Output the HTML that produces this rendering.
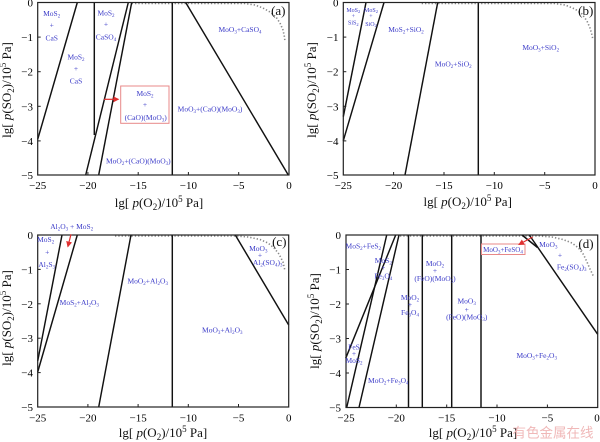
<!DOCTYPE html>
<html><head><meta charset="utf-8"><style>
html,body{margin:0;padding:0;background:#fff;}
svg{display:block;}
text{font-family:"Liberation Serif","Noto Serif CJK SC",serif;}
.lb{fill:#3b3bc8;font-size:7.5px;text-anchor:middle;}
.sm{fill:#3b3bc8;font-size:6px;text-anchor:middle;}
.tk{font-size:11px;fill:#000;}
.ttl{font-size:13px;fill:#111;text-anchor:middle;}
.ln{stroke:#111;stroke-width:1.45;fill:none;}
.fr{stroke:#222;stroke-width:1.2;fill:none;}
.dt{stroke:#888;stroke-width:1.6;fill:none;stroke-dasharray:1.3 2;}
.pn{font-size:13px;fill:#111;text-anchor:middle;}
</style></head><body>
<svg width="600" height="442" viewBox="0 0 600 442" xmlns="http://www.w3.org/2000/svg">
<defs>
<marker id="ah" markerWidth="6" markerHeight="6" refX="5" refY="3" orient="auto" markerUnits="userSpaceOnUse"><path d="M0,0 L6,3 L0,6 Z" fill="#e03030"/></marker>
</defs>
<rect width="600" height="442" fill="#fff"/>

<!-- ============ PANEL A ============ -->
<polyline class="dt" points="131.7,3.5 245,3.5 255,5 263,8 270,12 276,17 280,23 283,30 284.5,37 285,42"/>
<line class="ln" x1="37.7" y1="139.3" x2="77.3" y2="2.5"/>
<line class="ln" x1="94.3" y1="2.5" x2="94.3" y2="135"/>
<line class="ln" x1="85.7" y1="175" x2="128.3" y2="2.5"/>
<line class="ln" x1="98.7" y1="175" x2="131.7" y2="2.5"/>
<line class="ln" x1="172.3" y1="2.5" x2="172.3" y2="175"/>
<line class="ln" x1="185.7" y1="2.5" x2="288" y2="174.5"/>
<rect class="fr" x="37.7" y="2.5" width="251.3" height="172.5"/>
<g stroke="#222" stroke-width="1">
<line x1="87.9" y1="175" x2="87.9" y2="172"/><line x1="138.2" y1="175" x2="138.2" y2="172"/><line x1="188.4" y1="175" x2="188.4" y2="172"/><line x1="238.7" y1="175" x2="238.7" y2="172"/>
<line x1="37.7" y1="37.1" x2="40.7" y2="37.1"/><line x1="37.7" y1="71.7" x2="40.7" y2="71.7"/><line x1="37.7" y1="106.3" x2="40.7" y2="106.3"/><line x1="37.7" y1="140.9" x2="40.7" y2="140.9"/>
</g>
<g class="tk" text-anchor="middle">
<text x="37.7" y="189">−25</text><text x="87.9" y="189">−20</text><text x="138.2" y="189">−15</text><text x="188.4" y="189">−10</text><text x="238.7" y="189">−5</text><text x="289" y="189">0</text>
</g>
<g class="tk" text-anchor="end">
<text x="33" y="6.5">0</text><text x="33" y="41.1">−1</text><text x="33" y="75.7">−2</text><text x="33" y="110.3">−3</text><text x="33" y="144.9">−4</text><text x="33" y="179">−5</text>
</g>
<text class="ttl" x="159" y="207">lg[ <tspan font-style="italic">p</tspan>(O<tspan font-size="9" dy="3">2</tspan><tspan dy="-3">)/10</tspan><tspan font-size="9" dy="-5">5</tspan><tspan dy="5"> Pa]</tspan></text>
<text class="ttl" transform="translate(11,90) rotate(-90)">lg[ <tspan font-style="italic">p</tspan>(SO<tspan font-size="9" dy="3">2</tspan><tspan dy="-3">)/10</tspan><tspan font-size="9" dy="-5">5</tspan><tspan dy="5"> Pa]</tspan></text>
<text class="pn" x="278.3" y="15">(a)</text>
<text class="lb" x="51.7" y="16">MoS<tspan font-size="5" dy="1.5">2</tspan></text>
<text class="lb" x="51.7" y="27.5">+</text>
<text class="lb" x="51.7" y="40.3">CaS</text>
<text class="lb" x="76" y="59.3">MoS<tspan font-size="5" dy="1.5">2</tspan></text>
<text class="lb" x="76" y="71">+</text>
<text class="lb" x="76" y="83.5">CaS</text>
<text class="lb" x="106" y="15.3">MoS<tspan font-size="5" dy="1.5">2</tspan></text>
<text class="lb" x="106" y="26.5">+</text>
<text class="lb" x="106" y="39.3">CaSO<tspan font-size="5" dy="1.5">4</tspan></text>
<text class="lb" x="240" y="32">MoO<tspan font-size="5" dy="1.5">3</tspan><tspan dy="-1.5">+CaSO</tspan><tspan font-size="5" dy="1.5">4</tspan></text>
<rect x="120.7" y="86" width="48.3" height="37.3" fill="#fff" stroke="#e88888" stroke-width="1"/>
<text class="lb" x="145" y="96">MoS<tspan font-size="5" dy="1.5">2</tspan></text>
<text class="lb" x="145" y="107">+</text>
<text class="lb" x="145.7" y="120">(CaO)(MoO<tspan font-size="5" dy="1.5">3</tspan><tspan dy="-1.5">)</tspan></text>
<line x1="104" y1="99.3" x2="118.3" y2="99.3" stroke="#e03030" stroke-width="1.2" marker-end="url(#ah)"/>
<text class="lb" x="210" y="111.5">MoO<tspan font-size="5" dy="1.5">3</tspan><tspan dy="-1.5">+(CaO)(MoO</tspan><tspan font-size="5" dy="1.5">3</tspan><tspan dy="-1.5">)</tspan></text>
<text class="lb" x="138.3" y="163.5">MoO<tspan font-size="5" dy="1.5">2</tspan><tspan dy="-1.5">+(CaO)(MoO</tspan><tspan font-size="5" dy="1.5">3</tspan><tspan dy="-1.5">)</tspan></text>

<!-- ============ PANEL B ============ -->
<polyline class="dt" points="421.7,3.5 555,3.5 565,5 575,9 582,14 587,21 590,28 592,35 593,40"/>
<line class="ln" x1="343.3" y1="116.7" x2="366" y2="2.5"/>
<line class="ln" x1="343.3" y1="140.7" x2="384" y2="2.5"/>
<line class="ln" x1="405" y1="175" x2="437.7" y2="2.5"/>
<line class="ln" x1="478.3" y1="2.5" x2="478.3" y2="175"/>
<rect class="fr" x="343.3" y="2.5" width="251.7" height="172.5"/>
<g stroke="#222" stroke-width="1">
<line x1="393.6" y1="175" x2="393.6" y2="172"/><line x1="444" y1="175" x2="444" y2="172"/><line x1="494.3" y1="175" x2="494.3" y2="172"/><line x1="544.7" y1="175" x2="544.7" y2="172"/>
<line x1="343.3" y1="37.1" x2="346.3" y2="37.1"/><line x1="343.3" y1="71.7" x2="346.3" y2="71.7"/><line x1="343.3" y1="106.3" x2="346.3" y2="106.3"/><line x1="343.3" y1="140.9" x2="346.3" y2="140.9"/>
</g>
<g class="tk" text-anchor="middle">
<text x="343.3" y="189">−25</text><text x="393.6" y="189">−20</text><text x="444" y="189">−15</text><text x="494.3" y="189">−10</text><text x="544.7" y="189">−5</text><text x="595" y="189">0</text>
</g>
<g class="tk" text-anchor="end">
<text x="338.5" y="6.5">0</text><text x="338.5" y="41.1">−1</text><text x="338.5" y="75.7">−2</text><text x="338.5" y="110.3">−3</text><text x="338.5" y="144.9">−4</text><text x="338.5" y="179">−5</text>
</g>
<text class="ttl" x="467.7" y="206">lg[ <tspan font-style="italic">p</tspan>(O<tspan font-size="9" dy="3">2</tspan><tspan dy="-3">)/10</tspan><tspan font-size="9" dy="-5">5</tspan><tspan dy="5"> Pa]</tspan></text>
<text class="ttl" transform="translate(316,90) rotate(-90)">lg[ <tspan font-style="italic">p</tspan>(SO<tspan font-size="9" dy="3">2</tspan><tspan dy="-3">)/10</tspan><tspan font-size="9" dy="-5">5</tspan><tspan dy="5"> Pa]</tspan></text>
<text class="pn" x="585.7" y="15">(b)</text>
<text class="sm" x="353.3" y="12">MoS<tspan font-size="4.5" dy="1.2">2</tspan></text>
<text class="sm" x="353.3" y="18.2">+</text>
<text class="sm" x="353.3" y="24.7">SiS<tspan font-size="4.5" dy="1.2">2</tspan></text>
<text class="sm" x="371" y="12">MoS<tspan font-size="4.5" dy="1.2">2</tspan></text>
<text class="sm" x="371" y="18.2">+</text>
<text class="sm" x="371" y="26">SiO<tspan font-size="4.5" dy="1.2">2</tspan></text>
<text class="lb" x="406" y="32">MoS<tspan font-size="5" dy="1.5">2</tspan><tspan dy="-1.5">+SiO</tspan><tspan font-size="5" dy="1.5">2</tspan></text>
<text class="lb" x="453.3" y="66.5">MoO<tspan font-size="5" dy="1.5">2</tspan><tspan dy="-1.5">+SiO</tspan><tspan font-size="5" dy="1.5">2</tspan></text>
<text class="lb" x="540.7" y="50.2">MoO<tspan font-size="5" dy="1.5">3</tspan><tspan dy="-1.5">+SiO</tspan><tspan font-size="5" dy="1.5">2</tspan></text>

<!-- ============ PANEL C ============ -->
<polyline class="dt" points="115,236 236,236 248,237 260,239.5 268,243 274,248 279,254 283,262 285,271"/>
<line class="ln" x1="37.7" y1="361" x2="62" y2="235"/>
<line class="ln" x1="37.7" y1="372" x2="77.3" y2="235"/>
<line class="ln" x1="98.7" y1="407" x2="131" y2="235"/>
<line class="ln" x1="172.3" y1="235" x2="172.3" y2="407"/>
<line class="ln" x1="235.3" y1="235" x2="288.7" y2="325"/>
<rect class="fr" x="37.7" y="235" width="251" height="172"/>
<g stroke="#222" stroke-width="1">
<line x1="87.9" y1="407" x2="87.9" y2="404"/><line x1="138.1" y1="407" x2="138.1" y2="404"/><line x1="188.3" y1="407" x2="188.3" y2="404"/><line x1="238.5" y1="407" x2="238.5" y2="404"/>
<line x1="37.7" y1="269.4" x2="40.7" y2="269.4"/><line x1="37.7" y1="303.8" x2="40.7" y2="303.8"/><line x1="37.7" y1="338.2" x2="40.7" y2="338.2"/><line x1="37.7" y1="372.6" x2="40.7" y2="372.6"/>
</g>
<g class="tk" text-anchor="middle">
<text x="37.7" y="421.5">−25</text><text x="87.9" y="421.5">−20</text><text x="138.1" y="421.5">−15</text><text x="188.3" y="421.5">−10</text><text x="238.5" y="421.5">−5</text><text x="288.7" y="421.5">0</text>
</g>
<g class="tk" text-anchor="end">
<text x="33" y="239">0</text><text x="33" y="273.4">−1</text><text x="33" y="307.8">−2</text><text x="33" y="342.2">−3</text><text x="33" y="376.6">−4</text><text x="33" y="411">−5</text>
</g>
<text class="ttl" x="163" y="437">lg[ <tspan font-style="italic">p</tspan>(O<tspan font-size="9" dy="3">2</tspan><tspan dy="-3">)/10</tspan><tspan font-size="9" dy="-5">5</tspan><tspan dy="5"> Pa]</tspan></text>
<text class="ttl" transform="translate(11,318) rotate(-90)">lg[ <tspan font-style="italic">p</tspan>(SO<tspan font-size="9" dy="3">2</tspan><tspan dy="-3">)/10</tspan><tspan font-size="9" dy="-5">5</tspan><tspan dy="5"> Pa]</tspan></text>
<text class="pn" x="279.3" y="246">(c)</text>
<text class="lb" x="71.7" y="229.2">Al<tspan font-size="5" dy="1.5">2</tspan><tspan dy="-1.5">O</tspan><tspan font-size="5" dy="1.5">3</tspan><tspan dy="-1.5"> + MoS</tspan><tspan font-size="5" dy="1.5">2</tspan></text>
<line x1="71" y1="234.3" x2="67.9" y2="246.5" stroke="#e03030" stroke-width="1.2" marker-end="url(#ah)"/>
<text class="lb" x="45.7" y="241.8">MoS<tspan font-size="5" dy="1.5">2</tspan></text>
<text class="lb" x="47.3" y="254.5">+</text>
<text class="lb" x="46.7" y="266.8">Al<tspan font-size="5" dy="1.5">2</tspan><tspan dy="-1.5">S</tspan><tspan font-size="5" dy="1.5">3</tspan></text>
<text class="lb" x="79.3" y="305.2">MoS<tspan font-size="5" dy="1.5">2</tspan><tspan dy="-1.5">+Al</tspan><tspan font-size="5" dy="1.5">2</tspan><tspan dy="-1.5">O</tspan><tspan font-size="5" dy="1.5">3</tspan></text>
<text class="lb" x="147.7" y="283.5">MoO<tspan font-size="5" dy="1.5">2</tspan><tspan dy="-1.5">+Al</tspan><tspan font-size="5" dy="1.5">2</tspan><tspan dy="-1.5">O</tspan><tspan font-size="5" dy="1.5">3</tspan></text>
<text class="lb" x="222.3" y="332.5">MoO<tspan font-size="5" dy="1.5">3</tspan><tspan dy="-1.5">+Al</tspan><tspan font-size="5" dy="1.5">2</tspan><tspan dy="-1.5">O</tspan><tspan font-size="5" dy="1.5">3</tspan></text>
<text class="lb" x="258.3" y="250.8">MoO<tspan font-size="5" dy="1.5">3</tspan></text>
<text class="lb" x="260" y="257.5">+</text>
<text class="lb" x="267.7" y="265.2">Al<tspan font-size="5" dy="1.5">2</tspan><tspan dy="-1.5">(SO</tspan><tspan font-size="5" dy="1.5">4</tspan><tspan dy="-1.5">)</tspan><tspan font-size="5" dy="1.5">3</tspan></text>

<!-- ============ PANEL D ============ -->
<polyline class="dt" points="400,236 540,236 552,237 563,239.5 572,243 578.5,248 583.5,254.5 587,262 590,269 593.3,276"/>
<line class="ln" x1="345.7" y1="358.3" x2="395.7" y2="235"/>
<line class="ln" x1="346.7" y1="407.5" x2="386.7" y2="235"/>
<line class="ln" x1="359" y1="407.5" x2="399" y2="235"/>
<line class="ln" x1="408.5" y1="235" x2="408.5" y2="407.5"/>
<line class="ln" x1="422.3" y1="235" x2="422.3" y2="407.5"/>
<line class="ln" x1="451.7" y1="235" x2="451.7" y2="407.5"/>
<line class="ln" x1="481" y1="235" x2="481" y2="407.5"/>
<line class="ln" x1="529.3" y1="235" x2="597.7" y2="334.3"/>
<line class="ln" x1="522" y1="235" x2="537.5" y2="247.5"/>
<rect class="fr" x="346" y="235" width="251.7" height="172.5"/>
<g stroke="#222" stroke-width="1">
<line x1="396.3" y1="407.5" x2="396.3" y2="404.5"/><line x1="446.7" y1="407.5" x2="446.7" y2="404.5"/><line x1="497" y1="407.5" x2="497" y2="404.5"/><line x1="547.4" y1="407.5" x2="547.4" y2="404.5"/>
<line x1="346" y1="269.5" x2="349" y2="269.5"/><line x1="346" y1="304" x2="349" y2="304"/><line x1="346" y1="338.5" x2="349" y2="338.5"/><line x1="346" y1="373" x2="349" y2="373"/>
</g>
<g class="tk" text-anchor="middle">
<text x="346" y="421.5">−25</text><text x="396.3" y="421.5">−20</text><text x="446.7" y="421.5">−15</text><text x="497" y="421.5">−10</text><text x="547.4" y="421.5">−5</text><text x="597" y="421.5">0</text>
</g>
<g class="tk" text-anchor="end">
<text x="341" y="239">0</text><text x="341" y="273.5">−1</text><text x="341" y="308">−2</text><text x="341" y="342.5">−3</text><text x="341" y="377">−4</text><text x="341" y="411.5">−5</text>
</g>
<text class="ttl" x="473" y="437">lg[ <tspan font-style="italic">p</tspan>(O<tspan font-size="9" dy="3">2</tspan><tspan dy="-3">)/10</tspan><tspan font-size="9" dy="-5">5</tspan><tspan dy="5"> Pa]</tspan></text>
<text class="ttl" transform="translate(319,321) rotate(-90)">lg[ <tspan font-style="italic">p</tspan>(SO<tspan font-size="9" dy="3">2</tspan><tspan dy="-3">)/10</tspan><tspan font-size="9" dy="-5">5</tspan><tspan dy="5"> Pa]</tspan></text>
<text class="pn" x="586" y="248">(d)</text>
<text class="lb" x="363.3" y="248.5">MoS<tspan font-size="5" dy="1.5">2</tspan><tspan dy="-1.5">+FeS</tspan><tspan font-size="5" dy="1.5">2</tspan></text>
<text class="lb" x="383.3" y="262.8">MoS<tspan font-size="5" dy="1.5">2</tspan></text>
<text class="lb" x="383.3" y="270.2">+</text>
<text class="lb" x="383.3" y="278.5">Fe<tspan font-size="5" dy="1.5">3</tspan><tspan dy="-1.5">O</tspan><tspan font-size="5" dy="1.5">4</tspan></text>
<text class="lb" x="435" y="266.2">MoO<tspan font-size="5" dy="1.5">2</tspan></text>
<text class="lb" x="435" y="272.8">+</text>
<text class="lb" x="435" y="280.8">(FeO)(MoO<tspan font-size="5" dy="1.5">3</tspan><tspan dy="-1.5">)</tspan></text>
<text class="lb" x="410" y="300.2">MoO<tspan font-size="5" dy="1.5">2</tspan></text>
<text class="lb" x="410" y="306.8">+</text>
<text class="lb" x="410" y="315.2">Fe<tspan font-size="5" dy="1.5">3</tspan><tspan dy="-1.5">O</tspan><tspan font-size="5" dy="1.5">4</tspan></text>
<text class="lb" x="466.7" y="303.5">MoO<tspan font-size="5" dy="1.5">3</tspan></text>
<text class="lb" x="466.7" y="311.8">+</text>
<text class="lb" x="466.7" y="319.5">(FeO)(MoO<tspan font-size="5" dy="1.5">3</tspan><tspan dy="-1.5">)</tspan></text>
<text class="lb" x="354" y="349.5">FeS</text>
<text class="lb" x="354" y="356.2">+</text>
<text class="lb" x="354" y="362.8">MoS<tspan font-size="5" dy="1.5">2</tspan></text>
<text class="lb" x="388.3" y="382.8">MoO<tspan font-size="5" dy="1.5">2</tspan><tspan dy="-1.5">+Fe</tspan><tspan font-size="5" dy="1.5">3</tspan><tspan dy="-1.5">O</tspan><tspan font-size="5" dy="1.5">4</tspan></text>
<text class="lb" x="536.7" y="357.8">MoO<tspan font-size="5" dy="1.5">3</tspan><tspan dy="-1.5">+Fe</tspan><tspan font-size="5" dy="1.5">2</tspan><tspan dy="-1.5">O</tspan><tspan font-size="5" dy="1.5">3</tspan></text>
<text class="lb" x="548.3" y="246.8">MoO<tspan font-size="5" dy="1.5">3</tspan></text>
<text class="lb" x="560" y="257.5">+</text>
<text class="lb" x="571.7" y="269.5">Fe<tspan font-size="5" dy="1.5">2</tspan><tspan dy="-1.5">(SO</tspan><tspan font-size="5" dy="1.5">4</tspan><tspan dy="-1.5">)</tspan><tspan font-size="5" dy="1.5">3</tspan></text>
<rect x="481.5" y="244" width="43.5" height="10.5" fill="#fff" stroke="#e88888" stroke-width="1"/>
<text class="lb" x="503" y="251.8" style="font-size:7px">MoO<tspan font-size="5" dy="1.5">3</tspan><tspan dy="-1.5">+FeSO</tspan><tspan font-size="5" dy="1.5">4</tspan></text>
<line x1="532.7" y1="237" x2="519" y2="244.5" stroke="#e03030" stroke-width="1.2" marker-end="url(#ah)"/>

<!-- watermark -->
<text x="553" y="437.5" text-anchor="middle" style="font-family:'Liberation Sans','Noto Sans CJK SC',sans-serif;font-size:13.5px;fill:#f0b8b8;">有色金属在线</text>
</svg>
</body></html>
